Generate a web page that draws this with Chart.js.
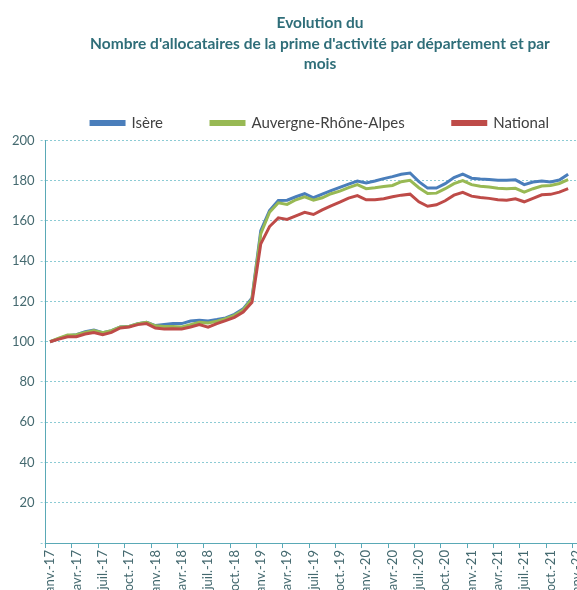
<!DOCTYPE html>
<html lang="fr">
<head>
<meta charset="utf-8">
<script src="https://cdn.jsdelivr.net/npm/chart.js@4"></script>
<style>
    html, body { margin: 0; padding: 0; background: #fff; overflow: hidden; }
    #wrap { width: 652px; height: 606px; }
</style>
</head>
<body>
<div id="wrap"><canvas id="chart"></canvas></div>
<script>
/* Evolution du nombre d'allocataires de la prime d'activité, base 100 en janv.-17 */

const months = [
    'janv.-17', 'févr.-17', 'mars-17', 'avr.-17', 'mai-17', 'juin-17', 'juil.-17', 'août-17', 'sept.-17', 'oct.-17', 'nov.-17', 'déc.-17',
    'janv.-18', 'févr.-18', 'mars-18', 'avr.-18', 'mai-18', 'juin-18', 'juil.-18', 'août-18', 'sept.-18', 'oct.-18', 'nov.-18', 'déc.-18',
    'janv.-19', 'févr.-19', 'mars-19', 'avr.-19', 'mai-19', 'juin-19', 'juil.-19', 'août-19', 'sept.-19', 'oct.-19', 'nov.-19', 'déc.-19',
    'janv.-20', 'févr.-20', 'mars-20', 'avr.-20', 'mai-20', 'juin-20', 'juil.-20', 'août-20', 'sept.-20', 'oct.-20', 'nov.-20', 'déc.-20',
    'janv.-21', 'févr.-21', 'mars-21', 'avr.-21', 'mai-21', 'juin-21', 'juil.-21', 'août-21', 'sept.-21', 'oct.-21', 'nov.-21', 'déc.-21',
    'janv.-22', 'févr.-22', 'mars-22', 'avr.-22', 'mai-22', 'juin-22', 'juil.-22',
];

const isere = [
    100, 101.5, 103, 103.5, 105, 105.8, 104.5, 105.5, 107.3, 107.6, 109, 109.6,
    108, 108.5, 109, 109, 110.3, 110.7, 110.3, 111, 111.8, 113.6, 116.3, 121.8,
    155.2, 165.2, 170.1, 170.3, 172, 173.5, 171.5, 173.3, 175, 176.7, 178.3, 179.8,
    178.8, 179.8, 181, 182, 183.2, 183.8, 179.5, 176.3, 176.3, 178.5, 181.5, 183.2,
    181.2, 180.8, 180.6, 180.2, 180.2, 180.4, 178, 179.3, 179.8, 179.3, 180.3, 183.2,
];

const auvergneRhoneAlpes = [
    100, 101.8, 103.3, 103.5, 104.6, 105.5, 104.5, 105.5, 107.3, 107.6, 109, 109.6,
    107.9, 107.6, 107.6, 107.3, 108.5, 109.6, 109.3, 110.2, 111.4, 113.1, 115.8, 121.2,
    153.6, 164.3, 169, 168.2, 170.5, 172, 170.3, 171.5, 173.5, 174.8, 176.5, 178,
    176, 176.5, 177.1, 177.6, 179.5, 180.2, 176.5, 173.6, 173.8, 176, 178.5, 180,
    178, 177.2, 176.8, 176.2, 176, 176.2, 174.3, 176, 177.3, 177.6, 178.6, 180.5,
];

const national = [
    100, 101.3, 102.5, 102.5, 103.8, 104.6, 103.5, 104.6, 106.8, 107.3, 108.5, 109,
    106.8, 106.3, 106.5, 106.3, 107.3, 108.5, 107.2, 109, 110.5, 112.1, 114.7, 119.6,
    148.6, 157.2, 161.5, 160.7, 162.5, 164.3, 163.2, 165.5, 167.5, 169.3, 171.3, 172.6,
    170.5, 170.5, 171, 172, 172.8, 173.3, 169.5, 167.3, 168, 170, 172.8, 174.2,
    172.3, 171.6, 171.2, 170.5, 170.3, 171, 169.5, 171.2, 173, 173.2, 174.3, 176,
];

const FONT = 'Lato, "Noto Sans", sans-serif';
const TEAL = '#5aa9b6';
const TEAL_LIGHT = '#8ccbd4';
const AXIS_TEXT = '#44696f';

const line = (label, data, color, order) => ({
    label, data, order,
    borderColor: color,
    backgroundColor: color,
    borderWidth: 3,
    pointRadius: 0,
    tension: 0,
});

// order : National dessiné par-dessus, légende remise dans l'ordre par reverse
new Chart(document.getElementById('chart'), {
    type: 'line',
    data: {
        labels: months,
        datasets: [
            line('Isère', isere, '#4a7ebb', 3),
            line('Auvergne-Rhône-Alpes', auvergneRhoneAlpes, '#98b954', 2),
            line('National', national, '#be4b48', 1),
        ],
    },
    options: {
        responsive: true,
        maintainAspectRatio: false,
        animation: false,
        layout: { padding: { left: 6, right: 18, top: 0, bottom: 8 } },
        plugins: {
            title: {
                display: true,
                text: [
                    'Evolution du',
                    "Nombre d'allocataires de la prime d'activité par département et par",
                    'mois',
                ],
                color: '#2f6e79',
                font: { family: FONT, size: 15.5, weight: 'bold', lineHeight: 1.32 },
                padding: { top: 13, bottom: -7 },
            },
            legend: {
                reverse: true,
                labels: {
                    boxWidth: 33,
                    boxHeight: 3,
                    padding: 48,
                    color: '#404040',
                    font: { family: FONT, size: 15 },
                },
            },
            tooltip: { enabled: false },
        },
        scales: {
            x: {
                offset: true,
                border: { color: TEAL, width: 1 },
                grid: {
                    offset: true,
                    drawOnChartArea: false,
                    tickLength: 5,
                    color: (ctx) => (ctx.index % 3 === 0 ? TEAL : 'rgba(0,0,0,0)'),
                },
                ticks: {
                    autoSkip: false,
                    minRotation: 90,
                    maxRotation: 90,
                    padding: 2,
                    color: AXIS_TEXT,
                    font: { family: FONT, size: 13 },
                    callback(v, i) { return i % 3 === 0 ? this.getLabelForValue(v) : ''; },
                },
            },
            y: {
                min: 0,
                max: 200,
                border: { color: TEAL, width: 1, dash: [2, 2] },
                grid: { color: TEAL_LIGHT, tickLength: 5, tickColor: TEAL_LIGHT, tickBorderDash: [2, 2] },
                ticks: {
                    stepSize: 20,
                    padding: 6,
                    color: AXIS_TEXT,
                    font: { family: FONT, size: 13 },
                    callback: (v) => (v === 0 ? '' : v),
                },
            },
        },
    },
});
</script>
</body>
</html>
